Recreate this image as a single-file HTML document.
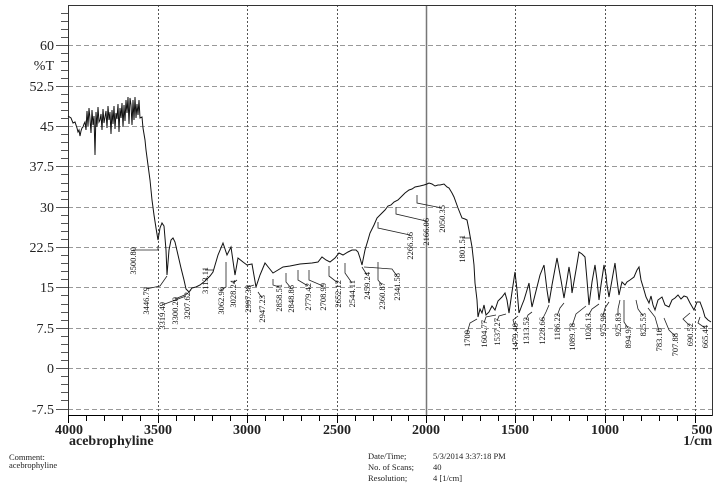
<!DOCTYPE html>
<html><head><meta charset="utf-8"><style>
html,body{margin:0;padding:0;background:#fff;}
svg{display:block;}
</style></head><body>
<svg width="724" height="485" viewBox="0 0 724 485" xmlns="http://www.w3.org/2000/svg" font-family="'Liberation Serif',serif">
<rect width="724" height="485" fill="#fff"/>
<g stroke="#999" stroke-width="1" stroke-dasharray="5,3">
<line x1="68" y1="45.5" x2="712" y2="45.5"/>
<line x1="68" y1="86.5" x2="712" y2="86.5"/>
<line x1="68" y1="126.5" x2="712" y2="126.5"/>
<line x1="68" y1="166.5" x2="712" y2="166.5"/>
<line x1="68" y1="207.5" x2="712" y2="207.5"/>
<line x1="68" y1="247.5" x2="712" y2="247.5"/>
<line x1="68" y1="287.5" x2="712" y2="287.5"/>
<line x1="68" y1="328.5" x2="712" y2="328.5"/>
<line x1="68" y1="368.5" x2="712" y2="368.5"/>
<line x1="68" y1="409.5" x2="712" y2="409.5"/>
</g>
<g stroke="#555" stroke-width="1" stroke-dasharray="2,2">
<line x1="158.5" y1="5" x2="158.5" y2="415"/>
<line x1="247.5" y1="5" x2="247.5" y2="415"/>
<line x1="337.5" y1="5" x2="337.5" y2="415"/>
<line x1="515.5" y1="5" x2="515.5" y2="415"/>
<line x1="605.5" y1="5" x2="605.5" y2="415"/>
<line x1="695.5" y1="5" x2="695.5" y2="415"/>
</g>
<line x1="426.5" y1="5" x2="426.5" y2="415" stroke="#777" stroke-width="1.5"/>
<path d="M68.5 415.5 V5.5 H712.5 V415.5 Z" fill="none" stroke="#333" stroke-width="1"/>
<line x1="68" y1="415.5" x2="712" y2="415.5" stroke="#000"/>
<g stroke="#555">
<path d="M61 13.5h7M61 21.5h7M61 29.5h7M61 37.5h7M61 53.5h7M61 61.5h7M61 70.5h7M61 78.5h7M61 94.5h7M61 102.5h7M61 110.5h7M61 118.5h7M61 134.5h7M61 142.5h7M61 150.5h7M61 158.5h7M61 174.5h7M61 183.5h7M61 191.5h7M61 199.5h7M61 215.5h7M61 223.5h7M61 231.5h7M61 239.5h7M61 255.5h7M61 263.5h7M61 271.5h7M61 279.5h7M61 295.5h7M61 304.5h7M61 312.5h7M61 320.5h7M61 336.5h7M61 344.5h7M61 352.5h7M61 360.5h7M61 376.5h7M61 384.5h7M61 392.5h7M61 400.5h7"/>
<path d="M56 45.5h12M56 86.5h12M56 126.5h12M56 166.5h12M56 207.5h12M56 247.5h12M56 287.5h12M56 328.5h12M56 368.5h12M56 409.5h12"/>
</g>
<g stroke="#000">
<path d="M68.5 415v8M86.5 415v6M104.5 415v6M122.5 415v6M140.5 415v6M158.5 415v8M176.5 415v6M194.5 415v6M212.5 415v6M230.5 415v6M247.5 415v8M265.5 415v6M283.5 415v6M301.5 415v6M319.5 415v6M337.5 415v8M355.5 415v6M373.5 415v6M391.5 415v6M408.5 415v6M426.5 415v8M444.5 415v6M462.5 415v6M480.5 415v6M498.5 415v6M515.5 415v8M533.5 415v6M551.5 415v6M569.5 415v6M587.5 415v6M605.5 415v8M623.5 415v6M641.5 415v6M659.5 415v6M677.5 415v6M695.5 415v8"/>
</g>
<g font-size="14" text-anchor="end" fill="#222">
<text x="54" y="50">60</text>
<text x="54" y="70">%T</text>
<text x="54" y="91">52.5</text>
<text x="54" y="131">45</text>
<text x="54" y="171">37.5</text>
<text x="54" y="212">30</text>
<text x="54" y="252">22.5</text>
<text x="54" y="292">15</text>
<text x="54" y="333">7.5</text>
<text x="54" y="373">0</text>
<text x="54" y="414">-7.5</text>
</g>
<g font-size="14" font-weight="bold" text-anchor="middle" fill="#222">
<text x="69" y="434">4000</text>
<text x="158" y="434">3500</text>
<text x="247" y="434">3000</text>
<text x="337" y="434">2500</text>
<text x="426" y="434">2000</text>
<text x="515" y="434">1500</text>
<text x="605" y="434">1000</text>
<text x="702" y="434">500</text>
</g>
<text x="712" y="445" font-size="14" font-weight="bold" text-anchor="end" fill="#222">1/cm</text>
<text x="69" y="445" font-size="14" font-weight="bold" fill="#222">acebrophyline</text>
<g font-size="8.5" fill="#222">
<text x="9" y="460">Comment:</text>
<text x="9" y="468">acebrophyline</text>
<text x="368" y="459">Date/Time;</text>
<text x="368" y="470">No. of Scans;</text>
<text x="368" y="481">Resolution;</text>
<text x="433" y="459">5/3/2014 3:37:18 PM</text>
<text x="433" y="470">40</text>
<text x="433" y="481">4 [1/cm]</text>
</g>
<polyline fill="none" stroke="#111" stroke-width="1" points="
68,116 71,118 73,123 75,122 77,128 78,132 79,130 80,136 81,131 82,128 83,127 84,124 85,122 86,130 87,111 88,126 89,108 90,119 91,133 92,110 93,125 94,116 95,155 96,112 97,127 98,107 99,122 100,120 101,114 102,130 103,109 104,123 105,117 106,111 107,128 108,106 109,120 110,112 111,134 112,110 113,124 114,106 115,129 116,113 117,119 118,104 119,132 120,108 121,118 122,103 123,127 124,105 125,121 126,100 127,113 128,97 129,124 130,98 131,105 132,125 133,100 134,120 135,97 136,118 137,104 138,115 139,100 140,118 142,117 143,128 145,140 146,150 148,165 150,180 152,200 154,215 156,228 158,240 160,228 162,223 164,226 166,250 167,275 169,250 171,240 173,238 175,242 178,255 181,268 184,280 186,289 189,292 192,288 196,287 200,285 205,281 210,276 213,272 218,255 223,243 227,255 231,247 235,275 238,258 243,262 247,265 252,264 256,287 260,275 265,263 269,268 273,273 278,270 283,267 290,266 300,264 312,263 318,262 322,257 326,260 330,262 335,258 339,253 343,255 348,252 352,250 356,250 358,252 360,258 362,265 365,250 368,240 370,233 374,225 377,218 381,214 385,210 388,206 391,205 394,202 398,200 402,196 405,193 409,190 412,189 415,187 420,186 424,185 427,184 429,183 432,184 435,186 438,185 440,185 444,184 447,187 449,188 452,193 454,197 458,208 462,218 465,219 467,220 469,230 472,247 474,265 475,283 477,300 478,317 480,309 482,313 484,305 486,315 489,312 492,306 495,310 498,301 502,297 505,293 507,300 509,313 512,292 515,272 517,290 519,313 522,305 524,300 527,290 529,283 531,300 532,307 535,295 537,287 540,275 544,265 547,290 549,303 552,285 557,258 561,280 564,298 567,280 569,267 571,280 572,293 576,270 579,252 582,254 585,257 587,280 589,305 592,282 595,265 597,280 599,300 601,285 604,265 606,275 607,285 609,297 612,280 615,263 617,280 619,295 621,286 622,282 625,285 627,282 630,280 634,277 637,270 639,267 641,280 644,290 646,297 649,303 651,296 653,305 655,310 658,300 662,297 665,305 669,307 672,300 675,298 678,295 681,299 684,296 687,297 690,303 694,310 697,302 700,302 703,310 705,317 708,320 711,322"/>
<g stroke="#222" stroke-width="0.8" fill="none">
<path d="M133 250 H158 V246"/>
<path d="M146 289 L160 286 L167 276"/>
<path d="M162 305 L186 296"/>
<path d="M175 299 L187 294"/>
<path d="M187 294 L191 290"/>
<path d="M205 270 L214 270"/>
<path d="M221 290 L226 287 L226 262"/>
<path d="M233 283 L237 280"/>
<path d="M248 287 L254 285"/>
<path d="M262 298 L258 292"/>
<path d="M279 287 L273 285 L273 279"/>
<path d="M291 288 L286 282 L286 273"/>
<path d="M308 286 L298 280 L298 270"/>
<path d="M323 286 L309 280 L309 270"/>
<path d="M338 283 L329 276 L329 266"/>
<path d="M352 283 L345 273 L345 263"/>
<path d="M367 275 L362 267"/>
<path d="M382 285 L378 280 L378 262"/>
<path d="M397 276 L392 269 L364 267"/>
<path d="M410 235 L378 228 L378 222"/>
<path d="M426 221 L396 214 L396 207"/>
<path d="M442 208 L417 203 L417 195"/>
<path d="M462 238 H470"/>
<path d="M467 333 L470 323 L477 319"/>
<path d="M484 323 L486 317 L496 315"/>
<path d="M497 321 L499 316 L506 314"/>
<path d="M515 326 L513 320 L518 316"/>
<path d="M526 320 L528 315 L532 312"/>
<path d="M542 320 L546 312 L549 305"/>
<path d="M557 316 L560 308 L564 303"/>
<path d="M572 326 L576 314 L586 306"/>
<path d="M588 316 L592 309 L599 304"/>
<path d="M603 316 L605 308 L609 302"/>
<path d="M618 316 L618 309 L620 300"/>
<path d="M628 328 L624 322 L624 300"/>
<path d="M643 316 L638 309 L636 300"/>
<path d="M659 331 L655 317 L648 308"/>
<path d="M675 336 L669 330 L664 318"/>
<path d="M690 326 L683 319 L690 313"/>
<path d="M705 328 L698 323 L700 317"/>
</g>
<g font-size="8.5" text-anchor="end" fill="#111">
<text transform="translate(136,247) rotate(-90)">3500.80</text>
<text transform="translate(149,287) rotate(-90)">3446.79</text>
<text transform="translate(165,302) rotate(-90)">3319.49</text>
<text transform="translate(178,297) rotate(-90)">3300.20</text>
<text transform="translate(190,292) rotate(-90)">3207.62</text>
<text transform="translate(208,267) rotate(-90)">3113.11</text>
<text transform="translate(224,287) rotate(-90)">3062.96</text>
<text transform="translate(236,280) rotate(-90)">3028.24</text>
<text transform="translate(251,285) rotate(-90)">2997.38</text>
<text transform="translate(265,295) rotate(-90)">2947.23</text>
<text transform="translate(282,284) rotate(-90)">2858.51</text>
<text transform="translate(294,285) rotate(-90)">2848.86</text>
<text transform="translate(311,283) rotate(-90)">2779.42</text>
<text transform="translate(326,283) rotate(-90)">2708.99</text>
<text transform="translate(341,280) rotate(-90)">2652.12</text>
<text transform="translate(355,280) rotate(-90)">2544.11</text>
<text transform="translate(370,272) rotate(-90)">2459.24</text>
<text transform="translate(385,282) rotate(-90)">2360.87</text>
<text transform="translate(400,273) rotate(-90)">2341.58</text>
<text transform="translate(413,232) rotate(-90)">2266.36</text>
<text transform="translate(429,218) rotate(-90)">2166.06</text>
<text transform="translate(445,205) rotate(-90)">2050.35</text>
<text transform="translate(465,235) rotate(-90)">1801.51</text>
<text transform="translate(470,330) rotate(-90)">1700</text>
<text transform="translate(487,320) rotate(-90)">1604.77</text>
<text transform="translate(500,318) rotate(-90)">1537.27</text>
<text transform="translate(518,323) rotate(-90)">1479.40</text>
<text transform="translate(529,317) rotate(-90)">1313.52</text>
<text transform="translate(545,317) rotate(-90)">1228.66</text>
<text transform="translate(560,313) rotate(-90)">1186.22</text>
<text transform="translate(575,323) rotate(-90)">1089.78</text>
<text transform="translate(591,313) rotate(-90)">1026.13</text>
<text transform="translate(606,313) rotate(-90)">975.98</text>
<text transform="translate(621,313) rotate(-90)">925.83</text>
<text transform="translate(631,325) rotate(-90)">894.97</text>
<text transform="translate(646,313) rotate(-90)">825.53</text>
<text transform="translate(662,328) rotate(-90)">783.10</text>
<text transform="translate(678,333) rotate(-90)">707.88</text>
<text transform="translate(693,323) rotate(-90)">690.52</text>
<text transform="translate(708,325) rotate(-90)">665.44</text>
</g>
</svg>
</body></html>
